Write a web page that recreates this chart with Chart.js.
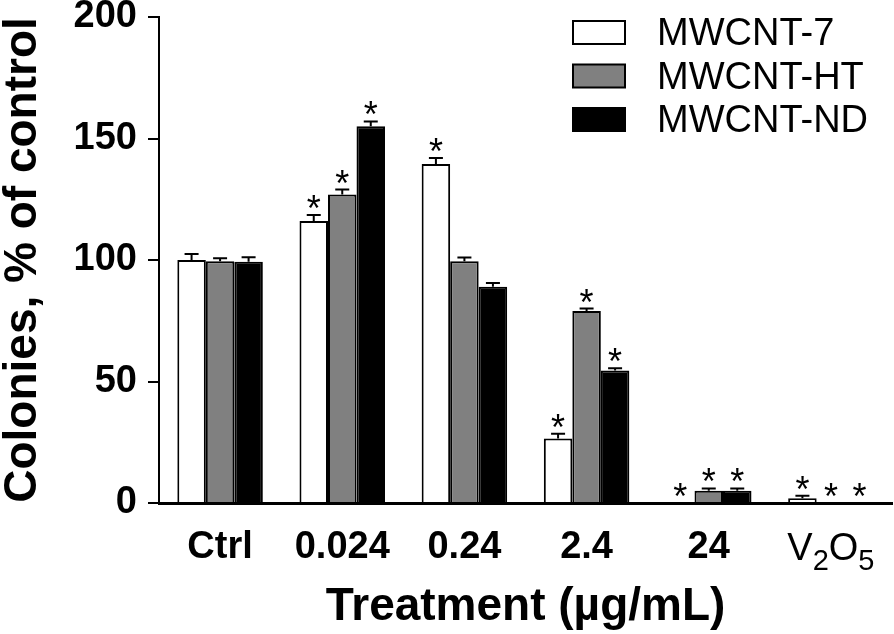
<!DOCTYPE html>
<html>
<head>
<meta charset="utf-8">
<script src="https://cdn.jsdelivr.net/npm/chart.js@4.4.0/dist/chart.umd.min.js"></script>
<style>
  body { margin: 0; background: #fff; }
</style>
</head>
<body>
<canvas id="myChart" width="894" height="634"></canvas>
<script>
// data
const categories = ['Ctrl', '0.024', '0.24', '2.4', '24', 'V2O5'];
const yTicks = [0, 50, 100, 150, 200];

const mwcnt7 = [100, 116, 139.5, 26.5, 0, 2];
const mwcnt7Err = [2.5, 2.5, 2.5, 2, 0, 1];
const mwcnt7Sig = [false, true, true, true, true, true];

const mwcntHT = [99.5, 127, 99.5, 79, 5, 0];
const mwcntHTErr = [1.2, 2, 1.5, 1, 1, 0];
const mwcntHTSig = [false, true, false, true, true, true];

const mwcntND = [99.3, 155, 89, 54.5, 5, 0];
const mwcntNDErr = [1.8, 2, 1.5, 1, 1, 0];
const mwcntNDSig = [false, true, false, true, true, true];

const FONT = '"Liberation Sans", Arial, Helvetica, sans-serif';
Chart.defaults.font.family = FONT;
Chart.defaults.color = '#000';

// error bars (upper only) and significance stars
const errorBarsAndStars = {
  id: 'errorBarsAndStars',
  afterDatasetsDraw(chart) {
    const ctx = chart.ctx;
    const yScale = chart.scales.y;
    chart.data.datasets.forEach((ds, di) => {
      const meta = chart.getDatasetMeta(di);
      meta.data.forEach((bar, i) => {
        const top = yScale.getPixelForValue(ds.data[i] + ds.errors[i]);
        ctx.save();
        ctx.strokeStyle = '#000';
        ctx.lineWidth = 2;
        if (ds.errors[i] > 0) {
          ctx.beginPath();
          ctx.moveTo(bar.x, bar.y);
          ctx.lineTo(bar.x, top);
          ctx.moveTo(bar.x - 7, top);
          ctx.lineTo(bar.x + 7, top);
          ctx.stroke();
        }
        if (ds.stars[i]) {
          ctx.fillStyle = '#000';
          ctx.font = '36px ' + FONT;
          ctx.textAlign = 'center';
          ctx.textBaseline = 'alphabetic';
          ctx.fillText('*', bar.x, top + 6);
        }
        ctx.restore();
      });
    });
  }
};

// legend boxes stacked in the top right corner
const boxLegend = {
  id: 'boxLegend',
  afterDraw(chart) {
    const ctx = chart.ctx;
    const x0 = chart.chartArea.right - 319;
    chart.data.datasets.forEach((ds, i) => {
      const y = chart.chartArea.top + 4 + i * 43.5;
      ctx.save();
      ctx.fillStyle = ds.backgroundColor;
      ctx.fillRect(x0, y, 52, 23);
      ctx.strokeStyle = '#000';
      ctx.lineWidth = 2;
      ctx.strokeRect(x0, y, 52, 23);
      ctx.fillStyle = '#000';
      ctx.font = '38px ' + FONT;
      ctx.textAlign = 'left';
      ctx.textBaseline = 'alphabetic';
      ctx.fillText(ds.label, x0 + 84, y + 24);
      ctx.restore();
    });
  }
};

// V2O5 tick label with real subscripts
const subscriptLabel = {
  id: 'subscriptLabel',
  afterDraw(chart) {
    const xs = chart.scales.x;
    const idx = categories.indexOf('V2O5');
    const cx = xs.getPixelForTick(idx);
    const parts = [['V', false], ['2', true], ['O', false], ['5', true]];
    const ctx = chart.ctx;
    const base = xs.top + 57;
    ctx.save();
    ctx.fillStyle = '#000';
    ctx.textAlign = 'left';
    ctx.textBaseline = 'alphabetic';
    let total = 0;
    parts.forEach(p => {
      ctx.font = (p[1] ? '29px ' : '38px ') + FONT;
      total += ctx.measureText(p[0]).width;
    });
    let x = cx - total / 2;
    parts.forEach(p => {
      ctx.font = (p[1] ? '29px ' : '38px ') + FONT;
      ctx.fillText(p[0], x, p[1] ? base + 10 : base);
      x += ctx.measureText(p[0]).width;
    });
    ctx.restore();
  }
};

const ctx = document.getElementById('myChart').getContext('2d');
new Chart(ctx, {
  type: 'bar',
  data: {
    labels: categories,
    datasets: [{
      label: 'MWCNT-7',
      data: mwcnt7,
      errors: mwcnt7Err,
      stars: mwcnt7Sig,
      backgroundColor: '#ffffff'
    }, {
      label: 'MWCNT-HT',
      data: mwcntHT,
      errors: mwcntHTErr,
      stars: mwcntHTSig,
      backgroundColor: '#808080'
    }, {
      label: 'MWCNT-ND',
      data: mwcntND,
      errors: mwcntNDErr,
      stars: mwcntNDSig,
      backgroundColor: '#000000'
    }]
  },
  options: {
    responsive: false,
    animation: false,
    devicePixelRatio: 1,
    layout: { padding: { top: 17, right: 2, left: 0, bottom: 0 } },
    datasets: {
      bar: {
        borderColor: '#000',
        borderWidth: 2,
        categoryPercentage: 0.7,
        barPercentage: 1.0
      }
    },
    plugins: {
      legend: { display: false },
      tooltip: { enabled: false }
    },
    scales: {
      x: {
        afterFit: scale => { scale.height = 131; },
        grid: { display: false, drawTicks: false },
        border: { display: true, color: '#000', width: 3 },
        ticks: {
          padding: 26,
          maxRotation: 0,
          autoSkip: false,
          font: { size: 38, weight: 'bold', lineHeight: 1 },
          callback: (val, i) => categories[i] === 'V2O5' ? '' : categories[i]
        },
        title: {
          display: true,
          text: 'Treatment (\u00b5g/mL)',
          font: { size: 46, weight: 'bold', lineHeight: 1 },
          padding: { top: 0, bottom: 4 }
        }
      },
      y: {
        min: 0,
        max: 200,
        afterFit: scale => {
          scale.width = 159;
          // let the 200 label overhang the top edge like the original
          scale.paddingTop = 0;
          scale.paddingBottom = 0;
        },
        afterBuildTicks: scale => { scale.ticks = yTicks.map(v => ({ value: v })); },
        grid: { drawOnChartArea: false, drawTicks: true, tickLength: 11, color: '#000', lineWidth: 2 },
        border: { display: true, color: '#000', width: 2 },
        ticks: {
          padding: 11,
          font: { size: 38, weight: 'bold', lineHeight: 1 }
        },
        title: {
          display: true,
          text: 'Colonies, % of control',
          font: { size: 46, weight: 'bold', lineHeight: 1 },
          padding: { top: 0, bottom: 0 }
        }
      }
    }
  },
  plugins: [errorBarsAndStars, boxLegend, subscriptLabel]
});
</script>
</body>
</html>
